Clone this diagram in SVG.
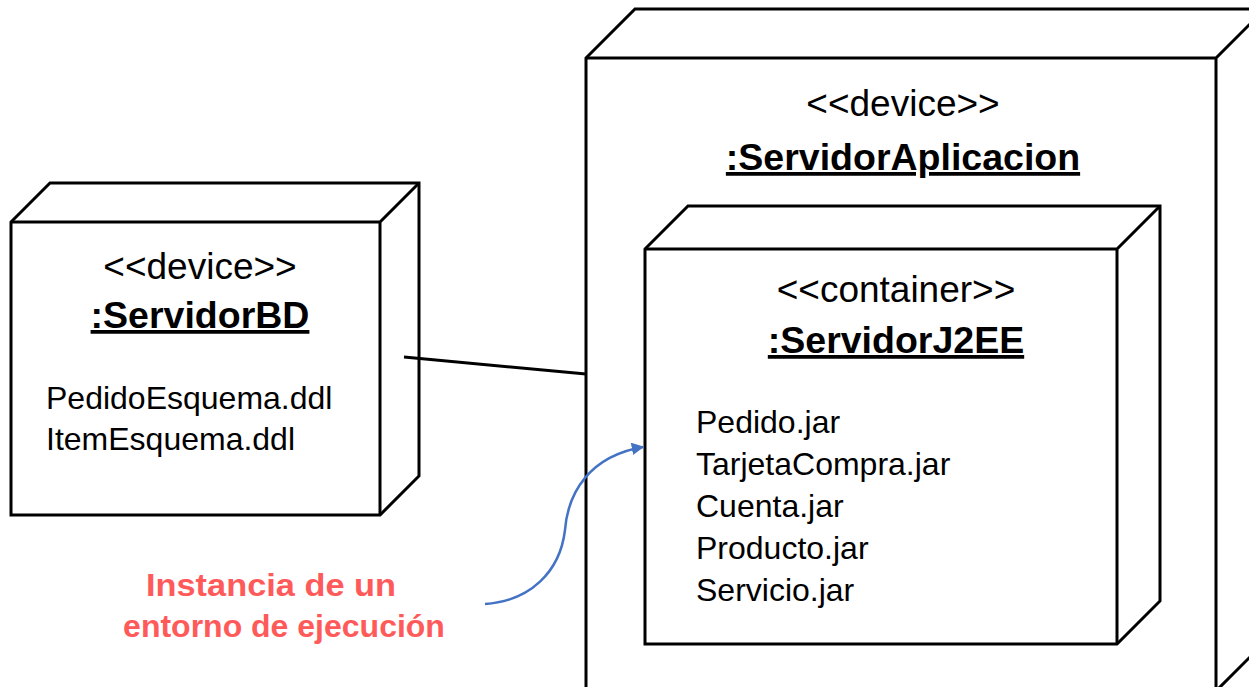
<svg xmlns="http://www.w3.org/2000/svg" width="1249" height="687" viewBox="0 0 1249 687">
<defs>
<style>
.box{fill:#fff;stroke:#000;stroke-width:3;stroke-linejoin:miter}
.edge{fill:none;stroke:#000;stroke-width:3}
.st{font-family:"Liberation Sans",Arial,sans-serif;font-size:37px;fill:#000;text-anchor:middle}
.nm{font-family:"Liberation Sans",Arial,sans-serif;font-size:37.5px;font-weight:bold;fill:#000;text-anchor:middle;text-decoration:underline}
.it{font-family:"Liberation Sans",Arial,sans-serif;font-size:32px;fill:#000}
.note{font-family:"Liberation Sans",Arial,sans-serif;font-size:32px;font-weight:bold;fill:#FF5A5A;text-anchor:middle}
</style>
<marker id="ah" viewBox="0 0 10 10" refX="9" refY="5" markerWidth="5" markerHeight="5" orient="auto" markerUnits="strokeWidth">
<path d="M0,0 L10,5 L0,10 z" fill="#4472C4"/>
</marker>
</defs>
<g id="servidorAplicacion">
<path class="box" d="M586,58 L635,9 L1265,9 L1265,642 L1216,691 L586,691 Z"/>
<path class="edge" d="M586,58 L1216,58 L1265,9 M1216,58 L1216,691"/>
<text class="st" x="903" y="116">&lt;&lt;device&gt;&gt;</text>
<text class="nm" x="903" y="170">:ServidorAplicacion</text>
</g>
<g id="servidorJ2EE">
<path class="box" d="M645,249 L688,206 L1160,206 L1160,601 L1117,644 L645,644 Z"/>
<path class="edge" d="M645,249 L1117,249 L1160,206 M1117,249 L1117,644"/>
<text class="st" x="896" y="302">&lt;&lt;container&gt;&gt;</text>
<text class="nm" x="896" y="353">:ServidorJ2EE</text>
<text class="it" x="696" y="433">Pedido.jar</text>
<text class="it" x="696" y="475">TarjetaCompra.jar</text>
<text class="it" x="696" y="517">Cuenta.jar</text>
<text class="it" x="696" y="559">Producto.jar</text>
<text class="it" x="696" y="601">Servicio.jar</text>
</g>
<g id="servidorBD">
<path class="box" d="M11,222 L50,183 L419,183 L419,476 L380,515 L11,515 Z"/>
<path class="edge" d="M11,222 L380,222 L419,183 M380,222 L380,515"/>
<text class="st" x="200" y="279">&lt;&lt;device&gt;&gt;</text>
<text class="nm" x="200" y="328">:ServidorBD</text>
<text class="it" x="46" y="409">PedidoEsquema.ddl</text>
<text class="it" x="46" y="450">ItemEsquema.ddl</text>
</g>
<g id="connectors">
<line x1="404" y1="357" x2="586" y2="374" stroke="#000" stroke-width="3"/>
<path d="M485,604 C530,601 560,572 565,530 C568,492 590,456 643,447" fill="none" stroke="#4472C4" stroke-width="2.5" marker-end="url(#ah)"/>
</g>
<g id="note">
<text class="note" x="271" y="596" textLength="250" lengthAdjust="spacingAndGlyphs">Instancia de un</text>
<text class="note" x="284" y="637">entorno de ejecución</text>
</g>
</svg>
